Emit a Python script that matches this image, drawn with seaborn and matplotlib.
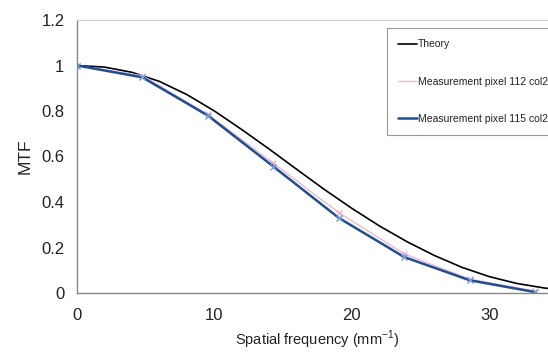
import matplotlib
matplotlib.use("Agg")
import matplotlib.pyplot as plt
import seaborn as sns
import pandas as pd

# Data
theory_x = [0, 2, 4, 6, 8, 10, 12, 14, 16, 18, 20, 22, 24, 26, 28, 30, 32, 34, 35]
theory_y = [1.0, 0.993, 0.97, 0.93, 0.872, 0.80, 0.718, 0.632, 0.543, 0.455,
            0.372, 0.295, 0.226, 0.165, 0.113, 0.072, 0.042, 0.022, 0.015]

meas_x = [0, 4.76, 9.52, 14.29, 19.05, 23.81, 28.57, 33.33]
pix112_y = [1.0, 0.955, 0.785, 0.57, 0.353, 0.172, 0.061, 0.008]
pix115_y = [1.0, 0.948, 0.78, 0.556, 0.33, 0.158, 0.056, 0.004]

series_names = ["Theory", "Measurement pixel 112 col2", "Measurement pixel 115 col2"]
y_ticks = [0, 0.2, 0.4, 0.6, 0.8, 1, 1.2]
y_tick_labels = ["0", "0.2", "0.4", "0.6", "0.8", "1", "1.2"]
x_ticks = [0, 10, 20, 30]

sns.set_style("white")
plt.rcParams["font.family"] = ["Liberation Sans", "DejaVu Sans"]

fig = plt.figure(figsize=(5.48, 3.52), dpi=100)
W, H = 548, 352
left, right, top, bottom = 77, 558, 20, 293
ax = fig.add_axes([left / W, 1 - bottom / H, (right - left) / W, (bottom - top) / H])

df_t = pd.DataFrame({"x": theory_x, "y": theory_y})
df_a = pd.DataFrame({"x": meas_x, "y": pix112_y})
df_b = pd.DataFrame({"x": meas_x, "y": pix115_y})

sns.lineplot(data=df_t, x="x", y="y", ax=ax, color="black", lw=1.2,
             label=series_names[0], sort=False, estimator=None)
sns.lineplot(data=df_a, x="x", y="y", ax=ax, color="#f2b8c6", lw=1.0,
             marker="x", markersize=5, markeredgecolor="#e8a0b4",
             label=series_names[1], sort=False, estimator=None)
sns.lineplot(data=df_b, x="x", y="y", ax=ax, color="#1f4e96", lw=1.8,
             marker="x", markersize=5, markeredgecolor="#6f9fd8", markeredgewidth=1.0,
             label=series_names[2], sort=False, estimator=None)

ax.set_xlim(0, 35)
ax.set_ylim(0, 1.2)
ax.set_yticks(y_ticks)
ax.set_yticklabels(y_tick_labels)
ax.set_xticks(x_ticks)
ax.tick_params(axis="both", direction="out", length=5, width=1, color="#888888",
               labelsize=12, labelcolor="#222222", pad=4)
ax.tick_params(axis="x", pad=6)

for s in ["left", "bottom"]:
    ax.spines[s].set_color("#888888")
    ax.spines[s].set_linewidth(1.0)
ax.spines["top"].set_color("#d0d0d0")
ax.spines["top"].set_linewidth(0.8)
ax.spines["right"].set_visible(False)

ax.set_xlabel("Spatial frequency (mm$^{\\mathregular{-1}}$)", fontsize=10.5,
              color="#222222", labelpad=4)
ax.set_ylabel("MTF", fontsize=12.5, color="#222222", labelpad=6)

leg = ax.legend(loc="upper left", bbox_to_anchor=(387 / W, 1 - 28 / H),
                bbox_transform=fig.transFigure, fontsize=7.5, frameon=True,
                fancybox=False, edgecolor="#808080", labelspacing=2.6,
                handlelength=1.8, handletextpad=0.1, borderpad=1.1,
                borderaxespad=0)
leg.get_frame().set_linewidth(0.8)
for t in leg.get_texts():
    t.set_color("#222222")
for h in leg.legend_handles:
    h.set_marker("")

fig.savefig("out.png", dpi=100)
